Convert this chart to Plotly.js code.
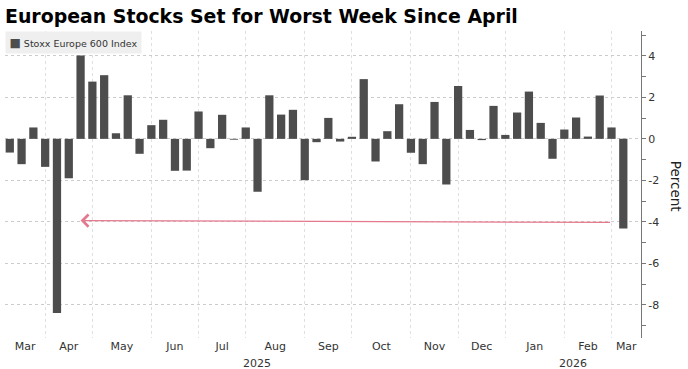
<!DOCTYPE html>
<html>
<head>
<meta charset="utf-8">
<script src="https://cdn.plot.ly/plotly-3.0.1.min.js"></script>
<style>html,body{margin:0;padding:0;background:#fff;}#chart{width:688px;height:369px;}</style>
</head>
<body>
<div id="chart"></div>
<script>
// Week-ending dates (Fridays)
var weeks = [
  '2025-03-07','2025-03-14','2025-03-21','2025-03-28','2025-04-04','2025-04-11','2025-04-18','2025-04-25',
  '2025-05-02','2025-05-09','2025-05-16','2025-05-23','2025-05-30','2025-06-06','2025-06-13','2025-06-20',
  '2025-06-27','2025-07-04','2025-07-11','2025-07-18','2025-07-25','2025-08-01','2025-08-08','2025-08-15',
  '2025-08-22','2025-08-29','2025-09-05','2025-09-12','2025-09-19','2025-09-26','2025-10-03','2025-10-10',
  '2025-10-17','2025-10-24','2025-10-31','2025-11-07','2025-11-14','2025-11-21','2025-11-28','2025-12-05',
  '2025-12-12','2025-12-19','2025-12-26','2026-01-02','2026-01-09','2026-01-16','2026-01-23','2026-01-30',
  '2026-02-06','2026-02-13','2026-02-20','2026-02-27','2026-03-06'
];
// Weekly change of the Stoxx Europe 600 Index, percent
var stoxxChange = [
  -0.66,-1.22,0.55,-1.35,-8.40,-1.90,4.02,2.76,
  3.07,0.27,2.10,-0.72,0.66,0.92,-1.54,-1.53,
  1.32,-0.45,1.16,-0.04,0.55,-2.55,2.10,1.17,
  1.40,-1.99,-0.16,1.01,-0.13,0.10,2.88,-1.09,
  0.37,1.67,-0.67,-1.22,1.78,-2.20,2.55,0.43,
  -0.06,1.59,0.19,1.27,2.28,0.77,-0.96,0.45,
  1.03,0.11,2.09,0.55,-4.32
];
var seriesName = 'Stoxx Europe 600 Index';
// Month separators (last week of each month) and month tick labels
var monthEnds = ['2025-03-28','2025-04-25','2025-05-30','2025-06-27','2025-07-25','2025-08-29',
                 '2025-09-26','2025-10-31','2025-11-28','2025-12-26','2026-01-30','2026-02-27'];
var monthLabels = ['Mar','Apr','May','Jun','Jul','Aug','Sep','Oct','Nov','Dec','Jan','Feb','Mar'];
var yTickVals = [-8,-6,-4,-2,0,2,4];
var yTickText = ['-8','-6','-4','-2','0','2','4'];
var yMinorVals = [-9,-7,-5,-3,-1,1,3,5];

var xStart = '2025-03-04 04:00', xEnd = '2026-03-16 12:00';
function ms(d){ return new Date(d.replace(' ','T') + (d.length>10?'':'T00:00') + 'Z').getTime(); }
var bounds = [xStart].concat(monthEnds).concat([xEnd]);
var monthMid = [];
for (var i = 0; i < bounds.length - 1; i++) {
  var m = (ms(bounds[i]) + ms(bounds[i+1])) / 2;
  monthMid.push(new Date(m).toISOString().replace('T',' ').slice(0,19));
}

// Arrow: from the latest weeks back to the April week at the current level
var arrowFrom = weeks[51], arrowTo = weeks[6];
var arrowLevelFrom = -4.03, arrowLevelTo = -3.94;

var trace = {
  type: 'bar', x: weeks, y: stoxxChange, name: seriesName,
  marker: {color: '#4d4d4d'}, showlegend: false, hoverinfo: 'skip'
};

var layout = {
  width: 688, height: 369,
  margin: {l: 5, r: 47, t: 31, b: 31},
  paper_bgcolor: '#fff', plot_bgcolor: '#fff',
  font: {family: 'DejaVu Sans', size: 11, color: '#333'},
  bargap: 0.3,
  title: {
    text: '<b>European Stocks Set for Worst Week Since April</b>',
    font: {family: 'DejaVu Sans', size: 18.9, color: '#000'},
    xref: 'container', x: 0.0073, xanchor: 'left',
    yref: 'container', y: 0.955, yanchor: 'middle'
  },
  xaxis: {
    type: 'date', range: [xStart, xEnd],
    tickmode: 'array', tickvals: monthMid, ticktext: monthLabels,
    ticks: '', showgrid: false, showline: false, zeroline: false,
    tickfont: {family: 'DejaVu Sans', size: 11, color: '#333'},
    minor: {tickmode: 'array', tickvals: monthEnds, showgrid: true,
            gridcolor: '#e0e0e0', griddash: 'dot', gridwidth: 1, ticks: ''}
  },
  yaxis: {
    side: 'right', range: [-9.6, 5.2],
    tickmode: 'array', tickvals: yTickVals, ticktext: yTickText,
    ticks: 'outside', ticklen: 4, tickcolor: '#777', tickwidth: 1,
    showline: true, linecolor: '#777', linewidth: 1,
    showgrid: true, gridcolor: '#cccccc', griddash: 'dot', gridwidth: 1,
    zeroline: false,
    tickfont: {family: 'DejaVu Sans', size: 11, color: '#333'},
    minor: {tickmode: 'array', tickvals: yMinorVals, ticks: 'outside', ticklen: 4,
            tickcolor: '#777', showgrid: false}
  },
  annotations: [
    {
      xref: 'paper', yref: 'paper', x: 0, y: 1, xanchor: 'left', yanchor: 'top',
      text: '<span style="color:#4d4d4d;font-size:12px">■</span> ' + seriesName,
      showarrow: false, bgcolor: '#efefef', borderpad: 3.5,
      font: {family: 'DejaVu Sans', size: 9.5, color: '#333'}
    },
    {
      xref: 'paper', yref: 'paper', x: 1.0555, y: 0.495, xanchor: 'center', yanchor: 'middle',
      text: 'Percent', textangle: 90, showarrow: false,
      font: {family: 'DejaVu Sans', size: 13.5, color: '#222'}
    },
    {
      xref: 'x', yref: 'paper', x: '2025-07-31 12:00', y: -0.083, yanchor: 'middle',
      text: '2025', showarrow: false, font: {family: 'DejaVu Sans', size: 11, color: '#333'}
    },
    {
      xref: 'x', yref: 'paper', x: '2026-02-04', y: -0.083, yanchor: 'middle',
      text: '2026', showarrow: false, font: {family: 'DejaVu Sans', size: 11, color: '#333'}
    },
    {
      xref: 'x', yref: 'y', x: arrowTo, y: arrowLevelTo,
      axref: 'x', ayref: 'y', ax: arrowFrom, ay: arrowLevelFrom,
      text: '', showarrow: true, arrowhead: 4, arrowsize: 1.8, arrowwidth: 1.3,
      arrowcolor: '#e4798d', standoff: 0, startstandoff: 0
    }
  ]
};

Plotly.newPlot('chart', [trace], layout, {staticPlot: true, displayModeBar: false});
</script>
</body>
</html>
